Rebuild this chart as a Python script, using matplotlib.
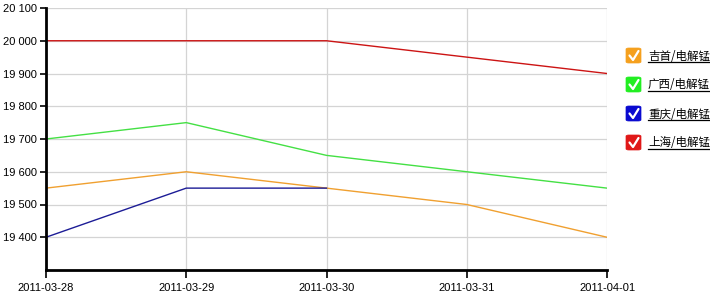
import numpy as np
import matplotlib
matplotlib.use("Agg")
import matplotlib.pyplot as plt
from matplotlib.patches import FancyBboxPatch
from matplotlib.lines import Line2D
from matplotlib.ticker import FuncFormatter

dates = ["2011-03-28", "2011-03-29", "2011-03-30", "2011-03-31", "2011-04-01"]
names = ["吉首/电解锰", "广西/电解锰", "重庆/电解锰", "上海/电解锰"]
jishou = [19550, 19600, 19550, 19500, 19400]
guangxi = [19700, 19750, 19650, 19600, 19550]
chongqing = [19400, 19550, 19550, np.nan, np.nan]
shanghai = [20000, 20000, 20000, 19950, 19900]
yticks = [19400, 19500, 19600, 19700, 19800, 19900, 20000, 20100]

series = [jishou, guangxi, chongqing, shanghai]
line_colors = ["#f0a030", "#44e044", "#1c1c96", "#cc1414"]
icon_colors = ["#f5a01e", "#22ee22", "#0a0ad0", "#e01818"]

W, H = 710, 295
fig = plt.figure(figsize=(W / 100, H / 100), dpi=100)
ax = fig.add_axes([46 / W, 1 - 270 / H, (607 - 46) / W, (270 - 8) / H])

x = np.arange(len(dates))
for vals, c in zip(series, line_colors):
    ax.plot(x, vals, color=c, lw=1.0, zorder=3)

ax.set_xlim(0, len(dates) - 1)
ax.set_ylim(19300, 20100)
ax.set_xticks(x)
ax.set_xticklabels(dates)
ax.set_yticks(yticks)
ax.yaxis.set_major_formatter(FuncFormatter(lambda v, p: f"{int(v):,}".replace(",", " ")))
ax.grid(True, color="#d4d4d4", lw=0.9, zorder=0)
for s in ["top", "right"]:
    ax.spines[s].set_visible(False)
for s in ["left", "bottom"]:
    ax.spines[s].set_linewidth(2.0)
    ax.spines[s].set_color("black")
    ax.spines[s].set_zorder(4)
ax.tick_params(axis="y", direction="out", length=4.5, width=1.2, color="black",
               labelsize=8, pad=2)
ax.tick_params(axis="x", direction="out", length=6, width=1.2, color="black",
               labelsize=8, pad=3.5)
for lab in ax.get_xticklabels() + ax.get_yticklabels():
    lab.set_fontfamily(["Liberation Sans", "DejaVu Sans"])

# legend
fig.canvas.draw()
renderer = fig.canvas.get_renderer()
for i, (name, ic) in enumerate(zip(names, icon_colors)):
    ytop = 48 + i * 29
    x0, y0 = 626, ytop
    box = FancyBboxPatch(((x0) / W, 1 - (y0 + 15) / H), 15 / W, 15 / H,
                         boxstyle="round,pad=0,rounding_size=0.004",
                         transform=fig.transFigure, facecolor=ic, edgecolor=ic, lw=0.5)
    fig.add_artist(box)
    cx = [x0 + 3.5, x0 + 7, x0 + 12.5]
    cy = [y0 + 7.5, y0 + 12, y0 + 3]
    fig.add_artist(Line2D([v / W for v in cx], [1 - v / H for v in cy],
                          transform=fig.transFigure, color="white", lw=1.6,
                          solid_capstyle="round", solid_joinstyle="round"))
    t = fig.text(648 / W, 1 - (ytop + 8) / H, name, fontsize=8.3, va="center", ha="left",
                 family=["Noto Sans CJK SC", "DejaVu Sans"], color="black")
    bb = t.get_window_extent(renderer)
    uy = bb.y0 + 1
    fig.add_artist(Line2D([bb.x0 / W, bb.x1 / W], [uy / H, uy / H],
                          transform=fig.transFigure, color="black", lw=0.9))

fig.savefig("out.png", dpi=100)
